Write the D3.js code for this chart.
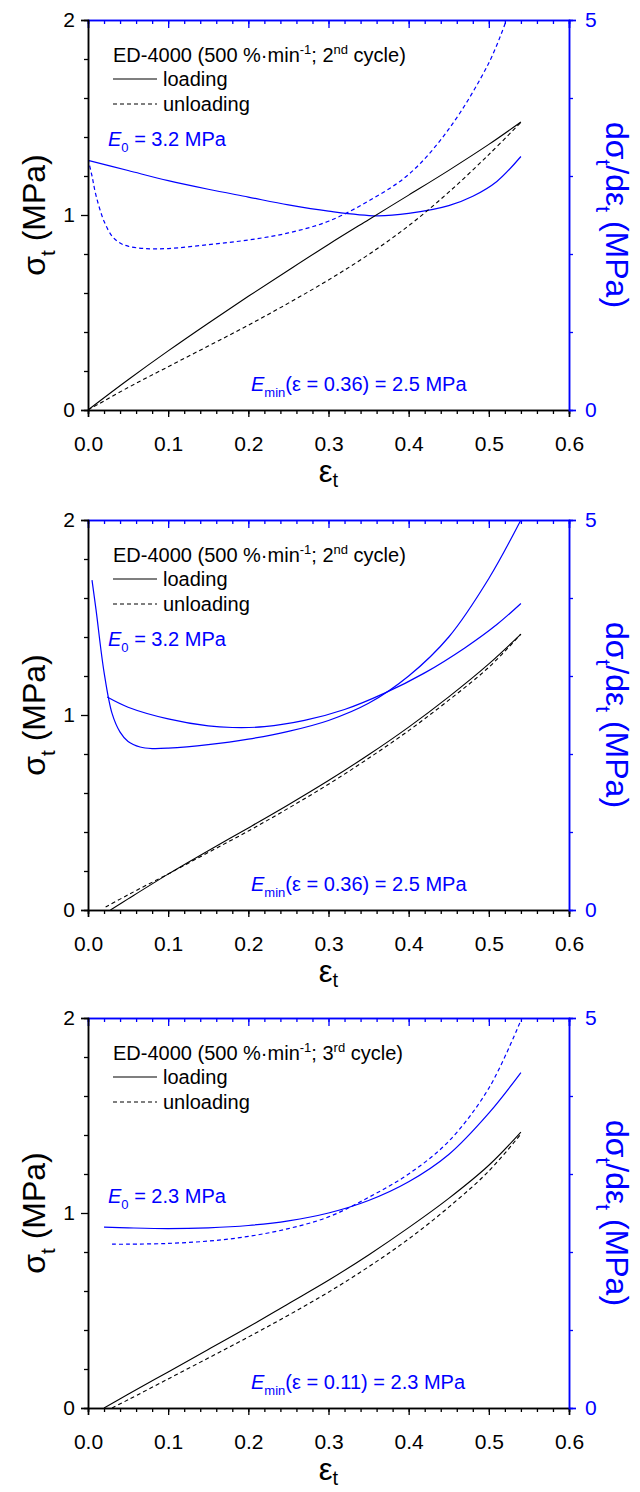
<!DOCTYPE html>
<html>
<head>
<meta charset="utf-8">
<script src="https://cdnjs.cloudflare.com/ajax/libs/d3/7.8.5/d3.min.js"></script>
<style>
  body { margin: 0; background: #fff; }
  svg { display: block; font-family: "Liberation Sans", Arial, sans-serif; }
</style>
</head>
<body>
<div id="chart"></div>
<script>
const WIDTH = 640;
const HEIGHT = 1492;
const BLUE = "#0000ff";

// ---- panel 1: 2nd cycle ----
const p1LoadStrain   = [0, 0.05, 0.1, 0.15, 0.2, 0.25, 0.3, 0.35, 0.4, 0.45, 0.5, 0.54];
const p1LoadStress   = [0, 0.155, 0.303, 0.445, 0.583, 0.717, 0.849, 0.976, 1.102, 1.229, 1.362, 1.477];
const p1UnloadStrain = [0, 0.05, 0.1, 0.15, 0.2, 0.25, 0.3, 0.35, 0.4, 0.45, 0.5, 0.54];
const p1UnloadStress = [0, 0.115, 0.222, 0.328, 0.435, 0.548, 0.667, 0.797, 0.945, 1.117, 1.31, 1.475];
const p1DLoadStrain  = [0, 0.05, 0.1, 0.15, 0.2, 0.25, 0.3, 0.36, 0.4, 0.45, 0.48, 0.51, 0.54];
const p1DLoad        = [3.2, 3.07, 2.94, 2.83, 2.73, 2.63, 2.55, 2.49, 2.52, 2.62, 2.74, 2.93, 3.25];
const p1DUnloadStrain = [0, 0.005, 0.01, 0.02, 0.03, 0.04, 0.05, 0.07, 0.1, 0.15, 0.2, 0.25, 0.3, 0.35, 0.4, 0.45, 0.5, 0.522];
const p1DUnload       = [3.22, 3.0, 2.75, 2.42, 2.23, 2.14, 2.1, 2.07, 2.07, 2.12, 2.18, 2.27, 2.42, 2.68, 3.02, 3.6, 4.45, 5.0];

// ---- panel 2: 2nd cycle ----
const p2LoadStrain   = [0.028, 0.05, 0.1, 0.15, 0.2, 0.25, 0.3, 0.35, 0.4, 0.45, 0.5, 0.54];
const p2LoadStress   = [0, 0.057, 0.184, 0.304, 0.421, 0.54, 0.664, 0.796, 0.938, 1.093, 1.262, 1.415];
const p2UnloadStrain = [0.022, 0.05, 0.1, 0.15, 0.2, 0.25, 0.3, 0.35, 0.4, 0.45, 0.5, 0.54];
const p2UnloadStress = [0.015, 0.078, 0.185, 0.295, 0.405, 0.522, 0.645, 0.778, 0.92, 1.076, 1.245, 1.415];
const p2DAStrain = [0.005, 0.01, 0.02, 0.03, 0.04, 0.05, 0.065, 0.08, 0.1, 0.15, 0.2, 0.25, 0.3, 0.35, 0.4, 0.45, 0.5, 0.54];
const p2DA       = [4.23, 3.85, 3.05, 2.52, 2.28, 2.16, 2.09, 2.07, 2.075, 2.12, 2.19, 2.29, 2.43, 2.65, 3.0, 3.5, 4.25, 5.0];
const p2DBStrain = [0.024, 0.05, 0.1, 0.15, 0.18, 0.22, 0.27, 0.32, 0.37, 0.42, 0.47, 0.51, 0.54];
const p2DB       = [2.73, 2.6, 2.45, 2.36, 2.34, 2.35, 2.43, 2.57, 2.78, 3.04, 3.36, 3.66, 3.93];

// ---- panel 3: 3rd cycle ----
const p3LoadStrain   = [0.02, 0.05, 0.1, 0.15, 0.2, 0.25, 0.3, 0.35, 0.4, 0.45, 0.5, 0.54];
const p3LoadStress   = [0, 0.07, 0.185, 0.3, 0.415, 0.535, 0.655, 0.785, 0.925, 1.075, 1.245, 1.415];
const p3UnloadStrain = [0.03, 0.05, 0.1, 0.15, 0.2, 0.25, 0.3, 0.35, 0.4, 0.45, 0.5, 0.54];
const p3UnloadStress = [0, 0.042, 0.149, 0.256, 0.364, 0.476, 0.594, 0.724, 0.867, 1.03, 1.215, 1.405];
const p3DLoadStrain  = [0.02, 0.05, 0.1, 0.15, 0.2, 0.25, 0.3, 0.35, 0.4, 0.45, 0.5, 0.54];
const p3DLoad        = [2.32, 2.31, 2.3, 2.31, 2.34, 2.4, 2.5, 2.66, 2.9, 3.25, 3.78, 4.3];
const p3DUnloadStrain = [0.03, 0.05, 0.1, 0.15, 0.2, 0.25, 0.3, 0.35, 0.4, 0.45, 0.5, 0.54];
const p3DUnload       = [2.1, 2.1, 2.11, 2.14, 2.2, 2.3, 2.45, 2.7, 3.0, 3.42, 4.1, 4.97];

// axis ticks
const xMajor = [0, 0.1, 0.2, 0.3, 0.4, 0.5, 0.6];
const xMinor = d3.range(0, 31).map(i => i * 0.02);
const yLeftMajor = [0, 1, 2];
const yLeftMinor = [0.2, 0.4, 0.6, 0.8, 1.2, 1.4, 1.6, 1.8];
const yRightMajor = [0, 5];
const yRightMinor = [1, 2, 3, 4];

const zip = (xs, ys) => xs.map((x, i) => [x, ys[i]]);

const panels = [
  {
    top: 20, cycle: "2", sup: "nd", e0: "3.2", e0y: 126, emin: ["0.36", "2.5"],
    black: [{ d: zip(p1LoadStrain, p1LoadStress), dash: null }, { d: zip(p1UnloadStrain, p1UnloadStress), dash: "4,3" }],
    blue: [{ d: zip(p1DLoadStrain, p1DLoad), dash: null }, { d: zip(p1DUnloadStrain, p1DUnload), dash: "4,3" }]
  },
  {
    top: 520, cycle: "2", sup: "nd", e0: "3.2", e0y: 126, emin: ["0.36", "2.5"],
    black: [{ d: zip(p2LoadStrain, p2LoadStress), dash: null }, { d: zip(p2UnloadStrain, p2UnloadStress), dash: "4,3" }],
    blue: [{ d: zip(p2DAStrain, p2DA), dash: null }, { d: zip(p2DBStrain, p2DB), dash: null }]
  },
  {
    top: 1018, cycle: "3", sup: "rd", e0: "2.3", e0y: 185, emin: ["0.11", "2.3"],
    black: [{ d: zip(p3LoadStrain, p3LoadStress), dash: null }, { d: zip(p3UnloadStrain, p3UnloadStress), dash: "4,3" }],
    blue: [{ d: zip(p3DLoadStrain, p3DLoad), dash: null }, { d: zip(p3DUnloadStrain, p3DUnload), dash: "4,3" }]
  }
];

const X_LEFT = 88, X_RIGHT = 569, PLOT_H = 390;

const svg = d3.select("#chart").append("svg")
  .attr("width", WIDTH)
  .attr("height", HEIGHT);

// text with sub/superscripts, parts = [[text, kind], ...]
function richText(sel, parts, size, subShift = 0.3) {
  let shift = 0;
  parts.forEach(([t, kind]) => {
    let target = 0;
    if (kind === "sub") target = size * subShift;
    if (kind === "sup") target = -size * 0.42;
    const ts = sel.append("tspan").text(t).attr("dy", target - shift);
    if (kind === "sub" || kind === "sup") ts.attr("font-size", size * 0.65);
    if (kind === "it") ts.attr("font-style", "italic");
    shift = target;
  });
}

function styleAxis(g, color) {
  g.select(".domain").attr("stroke", color).attr("stroke-width", 1.5);
  g.selectAll(".tick line").attr("stroke", color).attr("stroke-width", 1.3);
  g.selectAll(".tick text").attr("fill", color).attr("font-size", 21)
    .attr("font-family", "'Liberation Sans', Arial, sans-serif");
}

panels.forEach((p, idx) => {
  const top = p.top, bottom = top + PLOT_H;
  const x = d3.scaleLinear().domain([0, 0.6]).range([X_LEFT, X_RIGHT]);
  const yL = d3.scaleLinear().domain([0, 2]).range([bottom, top]);
  const yR = d3.scaleLinear().domain([0, 5]).range([bottom, top]);
  const g = svg.append("g");

  // clip
  const clipId = "clip" + idx;
  svg.append("clipPath").attr("id", clipId)
    .append("rect").attr("x", X_LEFT).attr("y", top).attr("width", X_RIGHT - X_LEFT).attr("height", PLOT_H);

  // data lines
  const lineL = d3.line().x(d => x(d[0])).y(d => yL(d[1])).curve(d3.curveCatmullRom.alpha(0.5));
  const lineR = d3.line().x(d => x(d[0])).y(d => yR(d[1])).curve(d3.curveCatmullRom.alpha(0.5));
  const lines = g.append("g").attr("clip-path", `url(#${clipId})`);
  p.blue.forEach(s => {
    lines.append("path").attr("d", lineR(s.d)).attr("fill", "none")
      .attr("stroke", BLUE).attr("stroke-width", 1.2)
      .attr("stroke-dasharray", s.dash);
  });
  p.black.forEach(s => {
    lines.append("path").attr("d", lineL(s.d)).attr("fill", "none")
      .attr("stroke", "#000").attr("stroke-width", 1.1)
      .attr("stroke-dasharray", s.dash);
  });

  // bottom axis
  const gx = g.append("g").attr("transform", `translate(0,${bottom})`);
  gx.append("g").call(d3.axisBottom(x).tickValues(xMinor).tickSize(4).tickFormat(""))
    .call(a => styleAxis(a, "#000"));
  gx.append("g").call(d3.axisBottom(x).tickValues(xMajor).tickSize(7).tickPadding(19).tickFormat(d3.format(".1f")))
    .call(a => styleAxis(a, "#000"));

  // top axis (blue, ticks inward)
  const gt = g.append("g").attr("transform", `translate(0,${top})`);
  gt.append("g").call(d3.axisBottom(x).tickValues(xMinor).tickSize(4).tickFormat(""))
    .call(a => styleAxis(a, BLUE));
  gt.append("g").call(d3.axisBottom(x).tickValues(xMajor).tickSize(8).tickFormat(""))
    .call(a => styleAxis(a, BLUE));

  // left axis
  const gl = g.append("g").attr("transform", `translate(${X_LEFT},0)`);
  gl.append("g").call(d3.axisLeft(yL).tickValues(yLeftMinor).tickSize(4).tickFormat(""))
    .call(a => styleAxis(a, "#000"));
  gl.append("g").call(d3.axisLeft(yL).tickValues(yLeftMajor).tickSize(7).tickPadding(6).tickFormat(d3.format("d")))
    .call(a => styleAxis(a, "#000"));

  // right axis
  const gr = g.append("g").attr("transform", `translate(${X_RIGHT},0)`);
  gr.append("g").call(d3.axisRight(yR).tickValues(yRightMinor).tickSize(4).tickFormat(""))
    .call(a => styleAxis(a, BLUE));
  gr.append("g").call(d3.axisRight(yR).tickValues(yRightMajor).tickSize(7).tickPadding(9).tickFormat(d3.format("d")))
    .call(a => styleAxis(a, BLUE));

  // axis titles
  const ly = g.append("text").attr("transform", `translate(45,${top + PLOT_H / 2}) rotate(-90)`)
    .attr("text-anchor", "middle").attr("font-size", 32).attr("fill", "#000");
  richText(ly, [["σ", ""], ["t", "sub"], [" (MPa)", ""]], 32);

  const ry = g.append("text").attr("transform", `translate(606,${top + PLOT_H / 2}) rotate(90)`)
    .attr("text-anchor", "middle").attr("font-size", 32).attr("fill", BLUE);
  richText(ry, [["dσ", ""], ["t", "sub"], ["/dε", ""], ["t", "sub"], [" (MPa)", ""]], 32);

  const xt = g.append("text").attr("x", (X_LEFT + X_RIGHT) / 2).attr("y", bottom + 72)
    .attr("text-anchor", "middle").attr("font-size", 31).attr("fill", "#000");
  richText(xt, [["ε", ""], ["t", "sub"]], 31, 0.16);

  // legend
  const lg = g.append("text").attr("x", 113).attr("y", top + 42).attr("font-size", 20).attr("fill", "#000");
  richText(lg, [["ED-4000 (500 %·min", ""], ["-1", "sup"], ["; " + p.cycle, ""], [p.sup, "sup"], [" cycle)", ""]], 20);

  [["loading", null, 59], ["unloading", "4,3", 84]].forEach(([label, dash, dy]) => {
    g.append("line").attr("x1", 113).attr("x2", 157).attr("y1", top + dy).attr("y2", top + dy)
      .attr("stroke", "#000").attr("stroke-width", 1.1).attr("stroke-dasharray", dash);
    g.append("text").attr("x", 163).attr("y", top + dy + 7).attr("font-size", 20).text(label);
  });

  // annotations
  const e0 = g.append("text").attr("x", 108).attr("y", top + p.e0y).attr("font-size", 20).attr("fill", BLUE);
  richText(e0, [["E", "it"], ["0", "sub"], [" = " + p.e0 + " MPa", ""]], 20);

  const em = g.append("text").attr("x", 251).attr("y", top + 371).attr("font-size", 20).attr("fill", BLUE);
  richText(em, [["E", "it"], ["min", "sub"], ["(ε = " + p.emin[0] + ") = " + p.emin[1] + " MPa", ""]], 20);
});
</script>
</body>
</html>
